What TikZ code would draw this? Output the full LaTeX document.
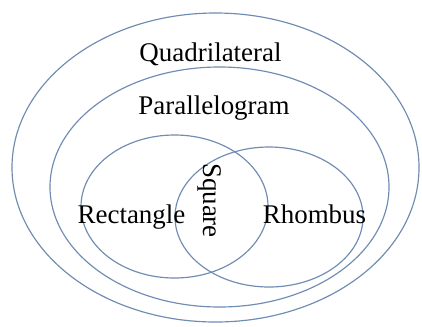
\documentclass[tikz,border=0pt]{standalone}
\usepackage{fontspec}
\newfontfamily\setfont{Liberation Serif}
\usepackage{tikz}

\definecolor{setline}{RGB}{112,140,178}

\begin{document}
\begin{tikzpicture}[x=0.03cm, y=-0.03cm, every node/.style={font=\setfont\fontsize{23}{27}\selectfont, inner sep=0pt}, set/.style={draw=setline, line width=1pt}]
	\useasboundingbox (0,0) rectangle (422,326);
	% nested sets
	\draw[set] (215.5,167.5) ellipse (203.5 and 154.5);
	\draw[set] (219.5,187) ellipse (169.5 and 120);
	\draw[set] (174.5,206.5) ellipse (93.5 and 71.5);
	\draw[set] (269,217) ellipse (94 and 70);
	% labels
	\node[anchor=base] (quad) at (210.5,61.5) {Quadrilateral};
	\node[anchor=base] (para) at (214,114) {Parallelogram};
	\node[anchor=base] (rect) at (131.5,223) {Rectangle};
	\node[anchor=base] (rhomb) at (314.5,223) {Rhombus};
	\node[rotate=-90] (sq) at (209.5,200.5) {Square};
\end{tikzpicture}
\end{document}
